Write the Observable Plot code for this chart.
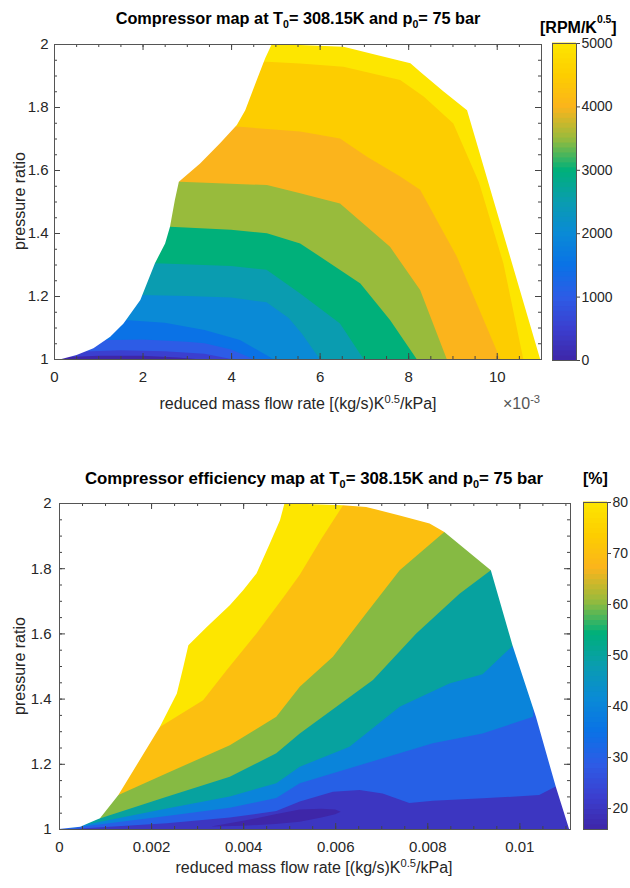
<!DOCTYPE html>
<html><head><meta charset="utf-8">
<script src="https://cdn.jsdelivr.net/npm/d3@7"></script>
<script src="https://cdn.jsdelivr.net/npm/@observablehq/plot@0.6"></script>
<style>
body{margin:0;background:#fff;}
#root{position:relative;width:630px;height:888px;font-family:"Liberation Sans",Arial,sans-serif;color:#262626;overflow:hidden;}
.abs{position:absolute;white-space:nowrap;line-height:16px;}
.title{font-weight:bold;font-size:16px;color:#000;text-align:center;}
.lbl{font-size:16px;color:#262626;}
.sub{font-size:0.65em;vertical-align:-0.35em;}
.sup{font-size:0.7em;vertical-align:0.5em;}
.bigsup{font-size:0.65em;vertical-align:1em;}
svg{position:absolute;}
</style></head><body><div id="root">
<div class="abs title" style="left:0;width:596px;top:10px;font-size:16.3px;">Compressor map at T<span class="sub">0</span>= 308.15K and p<span class="sub">0</span>= 75 bar</div>
<div class="abs title" style="left:540px;top:12px;text-align:left;">[RPM/K<span class="bigsup">0.5</span>]</div>
<div class="abs lbl" style="left:0;width:596px;top:391px;text-align:center;">reduced mass flow rate [(kg/s)K<span class="sup">0.5</span>/kPa]</div>
<div class="abs lbl" style="left:503px;top:391px;color:#555;">×10<span class="sup">-3</span></div>
<div class="abs lbl" style="left:20px;top:201px;transform:translate(-50%,-50%) rotate(-90deg);">pressure ratio</div>
<div class="abs title" style="left:0;width:628px;top:471px;font-size:16.8px;">Compressor efficiency map at T<span class="sub">0</span>= 308.15K and p<span class="sub">0</span>= 75 bar</div>
<div class="abs title" style="left:583px;top:471px;text-align:left;">[%]</div>
<div class="abs lbl" style="left:0;width:628px;top:855px;text-align:center;">reduced mass flow rate [(kg/s)K<span class="sup">0.5</span>/kPa]</div>
<div class="abs lbl" style="left:20px;top:666px;transform:translate(-50%,-50%) rotate(-90deg);">pressure ratio</div>
</div>
<script>
// ---------- colour map (parula-like) ----------
const parula = ["#3e26a8","#3b3fcf","#2d5ce6","#0a72e6","#0a8ad6","#0a9cb0","#00b07a","#98bb3c","#fbb41c","#fdcd00","#fde600"];
const parulaInterp = d3.piecewise(d3.interpolateRgb, parula);

// ---------- TOP: speed map ----------
const speedLevels = [500,1000,1500,2000,2500,3000,3500,4000,4500,5000];
const speedBaseLevel = 0;
const speedRange = [0, 5000];
const speedTicks = [0,1000,2000,3000,4000,5000];
const speedSurge = [[0,1.0],[0.17e-3,1.0],[0.51e-3,1.013],[0.89e-3,1.034],[1.27e-3,1.071],[1.57e-3,1.113],[1.95e-3,1.187],[2.28e-3,1.304],[2.51e-3,1.367],[2.62e-3,1.42],[2.73e-3,1.505],[2.82e-3,1.563],[3.30e-3,1.621],[3.75e-3,1.685],[4.13e-3,1.743],[4.32e-3,1.79],[4.58e-3,1.886],[4.77e-3,1.955],[4.92e-3,2.0]];
const speedChoke = [[4.92e-3,2.0],[5.56e-3,1.997],[6.54e-3,1.991],[7.29e-3,1.965],[8.05e-3,1.939],[8.27e-3,1.912],[8.80e-3,1.849],[9.33e-3,1.79],[10.98e-3,1.0],[11e-3,1.0]];
const rpm500  = [[0.35e-3,1.006],[1.0e-3,1.010],[2.0e-3,1.010],[2.8e-3,1.005],[3.2e-3,1.0]];
const rpm1000 = [[0.85e-3,1.025],[1.5e-3,1.028],[2.5e-3,1.025],[3.4e-3,1.017],[4.0e-3,1.0]];
const rpm1500 = [[1.2e-3,1.06],[2.0e-3,1.062],[3.0e-3,1.055],[3.4e-3,1.05],[4.0e-3,1.03],[4.5e-3,1.0]];
const rpm2000 = [[1.6e-3,1.124],[2.5e-3,1.115],[3.4e-3,1.092],[4.2e-3,1.06],[4.95e-3,1.0]];
const rpm2500 = [[1.95e-3,1.203],[3.0e-3,1.20],[4.0e-3,1.195],[4.8e-3,1.18],[5.3e-3,1.13],[5.6e-3,1.08],[6.0e-3,1.0]];
const rpm3000 = [[2.3e-3,1.304],[4.0e-3,1.295],[4.8e-3,1.283],[5.56e-3,1.208],[6.46e-3,1.113],[6.99e-3,1.0]];
const rpm3500 = [[2.62e-3,1.42],[4.0e-3,1.41],[4.81e-3,1.399],[5.56e-3,1.367],[6.92e-3,1.24],[7.59e-3,1.124],[8.19e-3,1.0]];
const rpm4000 = [[2.85e-3,1.563],[4.81e-3,1.552],[5.56e-3,1.526],[6.46e-3,1.494],[7.59e-3,1.356],[8.27e-3,1.219],[8.87e-3,1.0]];
const rpm4500 = [[4.20e-3,1.737],[5.56e-3,1.722],[6.46e-3,1.70],[7.07e-3,1.642],[7.82e-3,1.579],[8.27e-3,1.537],[9.10e-3,1.325],[10.08e-3,1.0]];
const rpm5000 = [[4.81e-3,1.944],[5.56e-3,1.938],[6.54e-3,1.928],[7.82e-3,1.886],[8.35e-3,1.833],[9.02e-3,1.748],[9.6e-3,1.56],[10.15e-3,1.304],[10.6e-3,1.0]];
const speedLines = [rpm500,rpm1000,rpm1500,rpm2000,rpm2500,rpm3000,rpm3500,rpm4000,rpm4500,rpm5000];
const topXDomain = [0, 0.011];
const topXTicks = [0,0.002,0.004,0.006,0.008,0.010];
const topXLabels = ["0","2","4","6","8","10"];

// ---------- BOTTOM: efficiency map ----------
const effLevels = [30,40,50,60,70,80];
const effBaseLevel = 20;
const effRange = [15.9, 80];
const effTicks = [20,30,40,50,60,70,80];
const effSurge = [[0,1.0],[0.46e-3,1.007],[0.89e-3,1.033],[1.29e-3,1.104],[2.19e-3,1.313],[2.56e-3,1.416],[2.70e-3,1.497],[2.81e-3,1.564],[3.21e-3,1.62],[3.71e-3,1.686],[4.0e-3,1.732],[4.29e-3,1.784],[4.58e-3,1.876],[4.80e-3,1.947],[4.90e-3,2.0]];
const effChoke = [[4.90e-3,2.0],[5.23e-3,1.998],[6.17e-3,1.993],[6.67e-3,1.988],[7.40e-3,1.962],[8.05e-3,1.937],[8.37e-3,1.911],[9.38e-3,1.794],[9.85e-3,1.564],[10.36e-3,1.344],[10.79e-3,1.13],[11.08e-3,1.0],[11.1e-3,1.0]];
const eff30 = [[0.3e-3,1.0],[2.34e-3,1.018],[3.71e-3,1.035],[4.72e-3,1.055],[5.23e-3,1.084],[5.95e-3,1.114],[6.53e-3,1.12],[7.03e-3,1.109],[7.61e-3,1.08],[8.12e-3,1.087],[9.2e-3,1.094],[10.43e-3,1.104],[10.79e-3,1.13]];
const eff40 = [[0.3e-3,1.004],[2.34e-3,1.04],[3.71e-3,1.065],[4.72e-3,1.095],[5.23e-3,1.14],[6.89e-3,1.211],[8.12e-3,1.263],[9.2e-3,1.293],[10.3e-3,1.344]];
const eff50 = [[0.55e-3,1.012],[2.34e-3,1.063],[3.71e-3,1.10],[4.72e-3,1.14],[5.23e-3,1.191],[6.31e-3,1.252],[7.40e-3,1.375],[8.48e-3,1.446],[9.2e-3,1.475],[9.87e-3,1.564]];
const eff60 = [[0.9e-3,1.033],[2.34e-3,1.099],[3.71e-3,1.16],[4.72e-3,1.232],[5.23e-3,1.293],[6.82e-3,1.457],[7.76e-3,1.60],[8.70e-3,1.722],[9.38e-3,1.794]];
const eff70 = [[1.29e-3,1.104],[2.34e-3,1.171],[3.71e-3,1.257],[4.72e-3,1.344],[5.23e-3,1.436],[5.95e-3,1.528],[6.67e-3,1.661],[7.40e-3,1.794],[8.37e-3,1.911]];
const eff80 = [[2.19e-3,1.313],[3.13e-3,1.395],[3.64e-3,1.487],[4.29e-3,1.60],[4.94e-3,1.723],[5.23e-3,1.78],[5.7e-3,1.89],[6.17e-3,1.993]];
const effLines = [eff30,eff40,eff50,eff60,eff70,eff80];
const pocketLevel = 15.9;
const pocketX    = [3.3e-3,4.0e-3,4.7e-3,5.23e-3,5.7e-3,6.0e-3,6.12e-3];
const pocketLow  = [1.008,1.010,1.015,1.022,1.035,1.045,1.053];
const pocketHigh = [1.008,1.025,1.045,1.060,1.062,1.060,1.053];
const botXDomain = [0, 0.0111];
const botXTicks = [0,0.002,0.004,0.006,0.008,0.010];
const botXLabels = ["0","0.002","0.004","0.006","0.008","0.01"];

const yDomain = [1, 2];
const yTicks = [1,1.2,1.4,1.6,1.8,2];
const yLabels = ["1","1.2","1.4","1.6","1.8","2"];

// ---------- helpers ----------
function contourRows(levels, lines, xmax) {
  const rows = [];
  levels.forEach((lv, i) => {
    const pts = lines[i];
    const ext = [[0, pts[0][1]], ...pts];
    if (pts[pts.length - 1][1] === 1) ext.push([xmax, 1]);
    ext.forEach(([x, y]) => rows.push({level: lv, x, y}));
  });
  return rows;
}
const toRows = pts => pts.map(([x, y]) => ({x, y}));
const AX = "#555";
const TK = "#444";

function tickMarks(xTicks, xDomain, fw, fh) {
  const xMinor = d3.range(0, xDomain[1] + 1e-9, 0.0005);
  const yMinor = d3.range(1, 2.0001, 0.05);
  const out = [];
  for (const [xs, ys, len] of [[xMinor, yMinor, 3], [xTicks, yTicks, 6]]) {
    out.push(
      Plot.ruleX(xs, {x: d => d, stroke: TK, insetTop: fh - len}),
      Plot.ruleX(xs, {x: d => d, stroke: TK, insetBottom: fh - len}),
      Plot.ruleY(ys, {y: d => d, stroke: TK, insetRight: fw - len}),
      Plot.ruleY(ys, {y: d => d, stroke: TK, insetLeft: fw - len})
    );
  }
  return out;
}

function mapChart(o) {
  const fw = 630 - o.ml - o.mr, fh = o.height - o.mt - o.mb;
  const xm = new Map(o.xTicks.map((d, i) => [d, o.xLabels[i]]));
  const ym = new Map(yTicks.map((d, i) => [d, yLabels[i]]));
  const base = [{x: o.xDomain[0], level: o.baseLevel}, {x: o.xDomain[1], level: o.baseLevel}];
  const marks = [
    Plot.areaY(base, {x: "x", y1: 1, y2: 2, fill: "level"}),
    Plot.areaY(contourRows(o.levels, o.lines, o.xDomain[1]), {x: "x", y1: "y", y2: 2, z: "level", fill: "level", curve: "linear"})
  ];
  if (o.pocket) marks.push(Plot.areaY(o.pocket, {x: "x", y1: "low", y2: "high", fill: "level", curve: "linear"}));
  marks.push(
    Plot.areaY(toRows(o.surge), {x: "x", y1: "y", y2: 2, fill: "white"}),
    Plot.areaY(toRows(o.choke), {x: "x", y1: "y", y2: 2, fill: "white"}),
    ...tickMarks(o.xTicks, o.xDomain, fw, fh),
    Plot.frame({stroke: AX}),
    Plot.axisX(o.xTicks, {anchor: "bottom", tickSize: 0, tickPadding: o.padX, tickFormat: d => xm.get(d), label: null, fill: "#262626"}),
    Plot.axisY(yTicks, {anchor: "left", tickSize: 0, tickPadding: o.padY, tickFormat: d => ym.get(d), label: null, fill: "#262626"})
  );
  const svg = Plot.plot({
    width: 630, height: o.height,
    marginLeft: o.ml, marginRight: o.mr, marginTop: o.mt, marginBottom: o.mb,
    style: {fontFamily: "'Liberation Sans', Arial, sans-serif", fontSize: "15px", background: "transparent"},
    x: {domain: o.xDomain},
    y: {domain: yDomain},
    color: {type: "linear", domain: o.range, interpolate: parulaInterp, clamp: true},
    marks
  });
  svg.style.left = "0px"; svg.style.top = o.top + "px";
  return svg;
}

function colorbar(o) {
  const n = 64, step = (o.range[1] - o.range[0]) / n;
  const cells = d3.range(n).map(i => o.range[0] + i * step);
  const svg = Plot.plot({
    width: 80, height: o.height,
    marginLeft: 11, marginRight: 45, marginTop: 10, marginBottom: 10,
    style: {fontFamily: "'Liberation Sans', Arial, sans-serif", fontSize: "14px", background: "transparent"},
    x: {domain: [0, 1], axis: null},
    y: {domain: o.range},
    color: {type: "linear", domain: o.range, interpolate: parulaInterp, clamp: true},
    marks: [
      Plot.rect(cells, {x1: 0, x2: 1, y1: d => d, y2: d => d + step, fill: d => d + step / 2, insetTop: -0.5, insetBottom: -0.5}),
      Plot.frame({stroke: AX}),
      Plot.axisY(o.ticks, {anchor: "right", tickSize: 3, tickPadding: 2, stroke: TK, fill: "#262626", label: null, tickFormat: d => String(d)})
    ]
  });
  svg.style.left = o.left + "px"; svg.style.top = o.top + "px";
  return svg;
}

const root = document.getElementById("root");
root.appendChild(mapChart({
  top: 0, height: 400, ml: 54, mr: 89, mt: 44, mb: 41,
  xDomain: topXDomain, xTicks: topXTicks, xLabels: topXLabels, padX: 12, padY: 6,
  levels: speedLevels, lines: speedLines, baseLevel: speedBaseLevel, range: speedRange,
  surge: speedSurge, choke: speedChoke
}));
root.appendChild(colorbar({left: 541, top: 33, height: 337, range: speedRange, ticks: speedTicks}));

const pocket = pocketX.map((x, i) => ({x, low: pocketLow[i], high: pocketHigh[i], level: pocketLevel}));
root.appendChild(mapChart({
  top: 460, height: 400, ml: 59, mr: 60, mt: 43, mb: 31,
  xDomain: botXDomain, xTicks: botXTicks, xLabels: botXLabels, padX: 12, padY: 8,
  levels: effLevels, lines: effLines, baseLevel: effBaseLevel, range: effRange,
  surge: effSurge, choke: effChoke, pocket
}));
root.appendChild(colorbar({left: 572, top: 492, height: 347, range: effRange, ticks: effTicks}));
</script>
</body></html>
